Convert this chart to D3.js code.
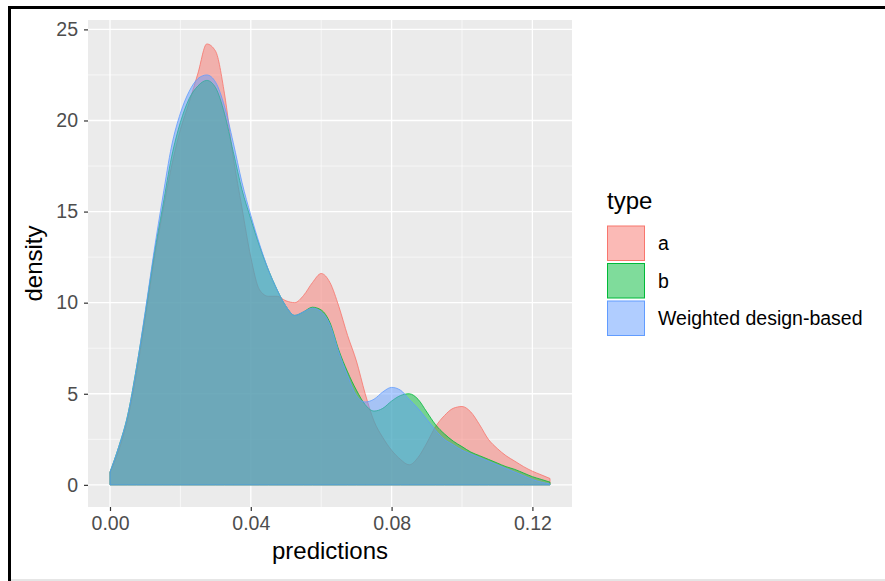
<!DOCTYPE html>
<html>
<head>
<meta charset="utf-8">
<script src="https://cdn.jsdelivr.net/npm/d3@7"></script>
<style>
  body { margin: 0; background: #fff; }
  text { font-family: Arial, "Liberation Sans", sans-serif; }
</style>
</head>
<body>
<script>
// data
const xs = [0, 0.0025, 0.005, 0.0075, 0.01, 0.0125, 0.015, 0.0175, 0.02, 0.0225, 0.025, 0.0275, 0.03, 0.0325, 0.035, 0.0375,
  0.04, 0.0425, 0.045, 0.0475, 0.05, 0.0525, 0.055, 0.0575, 0.06, 0.0625, 0.065, 0.0675, 0.07, 0.0725, 0.075, 0.0775,
  0.08, 0.0825, 0.085, 0.0875, 0.09, 0.0925, 0.095, 0.0975, 0.1, 0.1025, 0.105, 0.1075, 0.11, 0.1125, 0.115, 0.1175,
  0.12, 0.1225, 0.125];
const densA = [0.7, 1.9, 3.6, 6.1, 9.1, 12.3, 15.0, 17.5, 19.5, 21.0, 22.6, 24.2, 23.8, 21.5, 18.0, 15.2,
  12.5, 10.7, 10.35, 10.35, 10.1, 10.0, 10.4, 11.1, 11.6, 11.1, 9.8, 8.2, 6.8, 5.0, 3.5, 2.6,
  1.9, 1.4, 1.1, 1.5, 2.3, 3.2, 3.8, 4.2, 4.3, 4.0, 3.3, 2.5, 2.0, 1.6, 1.3, 1.0,
  0.75, 0.55, 0.35];
const densB = [0.7, 2.1, 3.8, 6.4, 9.4, 12.6, 15.3, 18.0, 19.9, 21.2, 21.9, 22.2, 21.8, 20.4, 18.3, 16.2,
  14.6, 13.1, 11.8, 10.7, 9.8, 9.3, 9.5, 9.75, 9.6, 8.9, 7.4, 6.2, 5.2, 4.4, 4.05, 4.2,
  4.6, 4.9, 5.0, 4.7, 4.0, 3.3, 2.8, 2.4, 2.1, 1.8, 1.6, 1.4, 1.2, 1.0, 0.85, 0.65,
  0.45, 0.3, 0.15];
const densW = [0.7, 2.1, 3.8, 6.4, 9.5, 12.8, 15.8, 18.6, 20.4, 21.6, 22.3, 22.5, 22.1, 20.8, 18.8, 16.6,
  14.8, 13.2, 11.8, 10.7, 9.8, 9.3, 9.5, 9.7, 9.5, 8.8, 7.3, 6.0, 4.9, 4.55, 4.7, 5.1,
  5.35, 5.2, 4.7, 4.2, 3.6, 3.0, 2.5, 2.2, 1.9, 1.7, 1.5, 1.3, 1.1, 0.9, 0.7, 0.5,
  0.3, 0.15, 0.05];
const types = ['a', 'b', 'Weighted design-based'];
const colors = ['#F8766D', '#00BA38', '#619CFF'];
const xTicks = [0, 0.04, 0.08, 0.12];
const yTicks = [0, 5, 10, 15, 20, 25];

const width = 885, height = 581;
const svg = d3.select('body').append('svg').attr('width', width).attr('height', height);

// frame round the screenshot
svg.append('rect').attr('x', 0).attr('y', 0).attr('width', width).attr('height', height).attr('fill', '#fff');
svg.append('line').attr('x1', 8).attr('x2', width).attr('y1', 7.5).attr('y2', 7.5).attr('stroke', '#000').attr('stroke-width', 3);
svg.append('line').attr('x1', 9.5).attr('x2', 9.5).attr('y1', 6).attr('y2', height).attr('stroke', '#000').attr('stroke-width', 3);
svg.append('line').attr('x1', 11).attr('x2', width).attr('y1', 580).attr('y2', 580).attr('stroke', '#ccc').attr('stroke-width', 1);

// panel
const panel = {left: 88, right: 572, top: 20, bottom: 507};
const xExp = 0.125 * 0.05, yExp = 24.3 * 0.05;
const x = d3.scaleLinear().domain([0 - xExp, 0.125 + xExp]).range([panel.left, panel.right]);
const y = d3.scaleLinear().domain([0 - yExp, 24.3 + yExp]).range([panel.bottom, panel.top]);

svg.append('rect').attr('x', panel.left).attr('y', panel.top)
  .attr('width', panel.right - panel.left).attr('height', panel.bottom - panel.top).attr('fill', '#EBEBEB');

const grid = svg.append('g');
// minor grid
[0.02, 0.06, 0.10].forEach(v => grid.append('line').attr('x1', x(v)).attr('x2', x(v)).attr('y1', panel.top).attr('y2', panel.bottom)
  .attr('stroke', '#fff').attr('stroke-width', 0.6));
[2.5, 7.5, 12.5, 17.5, 22.5].forEach(v => grid.append('line').attr('y1', y(v)).attr('y2', y(v)).attr('x1', panel.left).attr('x2', panel.right)
  .attr('stroke', '#fff').attr('stroke-width', 0.6));
// major grid
xTicks.forEach(v => grid.append('line').attr('x1', x(v)).attr('x2', x(v)).attr('y1', panel.top).attr('y2', panel.bottom)
  .attr('stroke', '#fff').attr('stroke-width', 1.3));
yTicks.forEach(v => grid.append('line').attr('y1', y(v)).attr('y2', y(v)).attr('x1', panel.left).attr('x2', panel.right)
  .attr('stroke', '#fff').attr('stroke-width', 1.3));

// densities, drawn a, b, W in order
const series = [densA, densB, densW];
const area = d3.area().x(d => x(d[0])).y0(y(0)).y1(d => y(d[1])).curve(d3.curveMonotoneX);
const dens = svg.append('g');
series.forEach((s, i) => {
  const pts = xs.map((v, j) => [v, s[j]]);
  dens.append('path').attr('d', area(pts) )
    .attr('fill', colors[i]).attr('fill-opacity', 0.5)
    .attr('stroke', colors[i]).attr('stroke-width', 0.9).attr('stroke-opacity', 0.9);
});

// axes
const xAxis = svg.append('g').attr('transform', `translate(0,${panel.bottom})`)
  .call(d3.axisBottom(x).tickValues(xTicks).tickFormat(d3.format('.2f')).tickSize(4).tickPadding(5));
const yAxis = svg.append('g').attr('transform', `translate(${panel.left},0)`)
  .call(d3.axisLeft(y).tickValues(yTicks).tickSize(4).tickPadding(6));
[xAxis, yAxis].forEach(a => {
  a.select('.domain').remove();
  a.selectAll('line').attr('stroke', '#333').attr('stroke-width', 1.2);
  a.selectAll('text').attr('fill', '#4D4D4D').style('font-size', '19.5px').style('font-family', 'Arial, "Liberation Sans", sans-serif');
});

svg.append('text').attr('x', (panel.left + panel.right) / 2).attr('y', 559).attr('text-anchor', 'middle')
  .style('font-size', '24px').attr('fill', '#000').text('predictions');
svg.append('text').attr('transform', `translate(42,${(panel.top + panel.bottom) / 2}) rotate(-90)`).attr('text-anchor', 'middle')
  .style('font-size', '24px').attr('fill', '#000').text('density');

// legend
const legend = svg.append('g').attr('transform', 'translate(607,0)');
legend.append('text').attr('x', 0).attr('y', 209).style('font-size', '24px').attr('fill', '#000').text('type');
types.forEach((t, i) => {
  const top = 226 + i * 37.5;
  legend.append('rect').attr('x', 0.5).attr('y', top).attr('width', 37).attr('height', 34.5)
    .attr('fill', colors[i]).attr('fill-opacity', 0.5).attr('stroke', colors[i]).attr('stroke-width', 1);
  legend.append('text').attr('x', 51).attr('y', top + 17.5).attr('dy', '0.35em')
    .style('font-size', '19.5px').attr('fill', '#000').text(t);
});
</script>
</body>
</html>
